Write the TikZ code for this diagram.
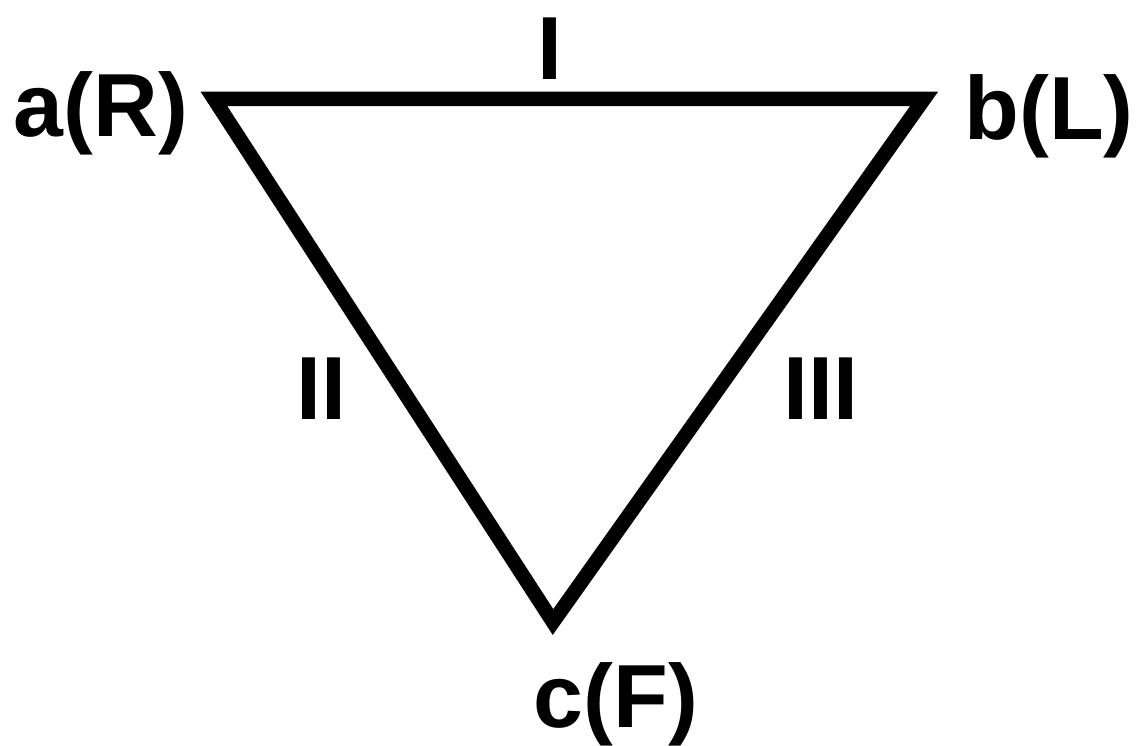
\documentclass[tikz,border=0pt]{standalone}
\usepackage{fontspec}
\setmainfont{Liberation Sans}
\usepackage{tikz}
\usetikzlibrary{positioning,calc}

\tikzset{
    lead/.style={font=\bfseries\fontsize{51}{60}\selectfont, inner sep=0pt},
    side/.style={line width=0.29cm, line join=miter}
}

\begin{document}
\begin{tikzpicture}[x=0.02cm, y=-0.02cm]
        \useasboundingbox (0,0) rectangle (1137,746);

        % corners of the triangle
        \coordinate (a) at (214,99);
        \coordinate (b) at (924,99);
        \coordinate (c) at (553,622);

        \draw[side] (a) -- (b) -- (c) -- cycle;

        % electrode labels
        \node[lead, anchor=base] (ra) at (101,137) {a(R)};
        \node[lead, anchor=base] (la) at (1049,140) {b(L)};
        \node[lead, anchor=base] (ft) at (616,727) {c(F)};

        % lead labels
        \node[lead, anchor=base] (one) at (550,80) {I};
        \node[lead, anchor=base] (two) at (321,420) {II};
        \node[lead, anchor=base] (three) at (821,420) {III};
    \end{tikzpicture}
\end{document}
